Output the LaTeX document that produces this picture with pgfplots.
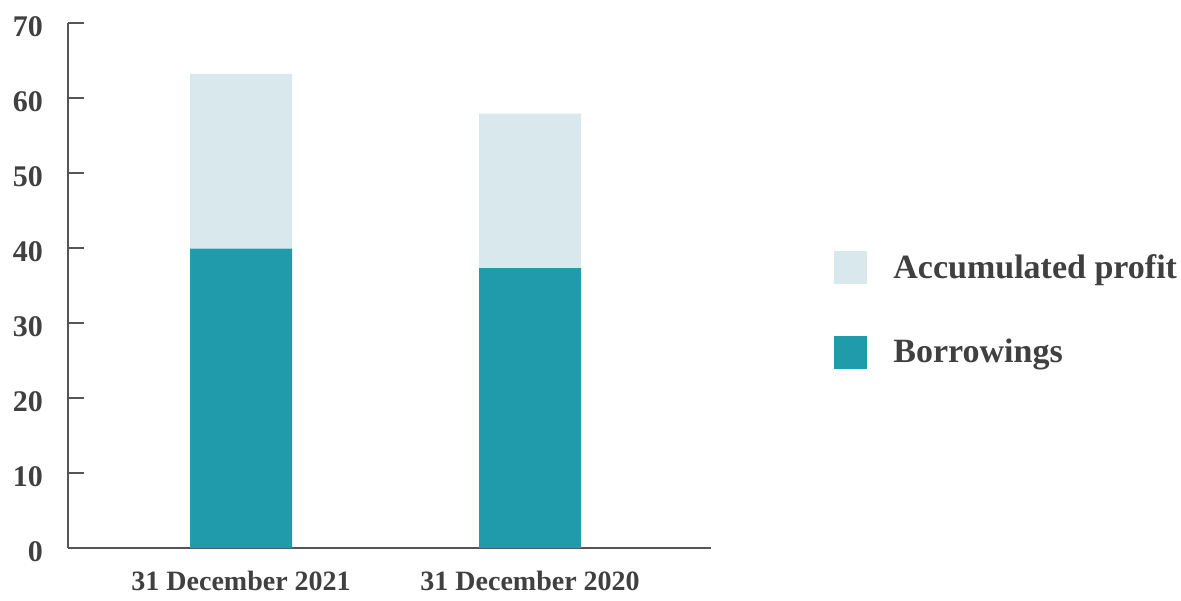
\documentclass[border=0pt]{standalone}
\usepackage{pgfplots}
\pgfplotsset{compat=1.18}
\usepackage{fontspec}
\setmainfont{Liberation Serif}
\definecolor{txt}{HTML}{404040}
\definecolor{axc}{HTML}{555555}
\definecolor{teal}{HTML}{209BAC}
\definecolor{light}{HTML}{D9E8ED}
\begin{document}
\begin{tikzpicture}
\useasboundingbox (-34pt,-26pt) rectangle (556.5pt,274pt);
\begin{axis}[
  scale only axis,
  width=321.5pt, height=262.5pt,
  ybar stacked, bar width=51pt,
  xmin=-0.599, xmax=1.626,
  ymin=0, ymax=70,
  ytick={0,10,...,70},
  xtick={0,1},
  xticklabels={31 December 2021, 31 December 2020},
  axis x line*=bottom, axis y line*=left,
  axis line style={draw=axc, line width=0.8pt, -},
  y axis line style={-}, x axis line style={-},
  tick style={draw=axc, line width=0.8pt},
  major tick length=8pt,
  xtick style={draw=none},
  tick align=inside,
  yticklabel style={font=\bfseries\fontsize{15}{18}\selectfont, text=txt, xshift=-9pt, yshift=-2pt},
  xticklabel style={font=\bfseries\fontsize{14}{17}\selectfont, text=txt, yshift=-8pt},
  /pgf/number format/assume math mode=true,
  reverse legend,
  legend cell align=left,
  legend style={draw=none, fill=none, at={(380pt,151pt)}, anchor=north west,
    font=\bfseries\fontsize{17}{20}\selectfont, text=txt, row sep=25pt,
    /tikz/every odd column/.append style={column sep=11pt}},
  legend image code/.code={\fill[#1] (0pt,-8.25pt) rectangle (16.5pt,8.25pt);},
]
\addplot[fill=teal, draw=none] coordinates {(0,39.9) (1,37.3)};
\addlegendentry{Borrowings}
\addplot[fill=light, draw=none] coordinates {(0,23.3) (1,20.6)};
\addlegendentry{Accumulated profit}
\end{axis}
\end{tikzpicture}
\end{document}
